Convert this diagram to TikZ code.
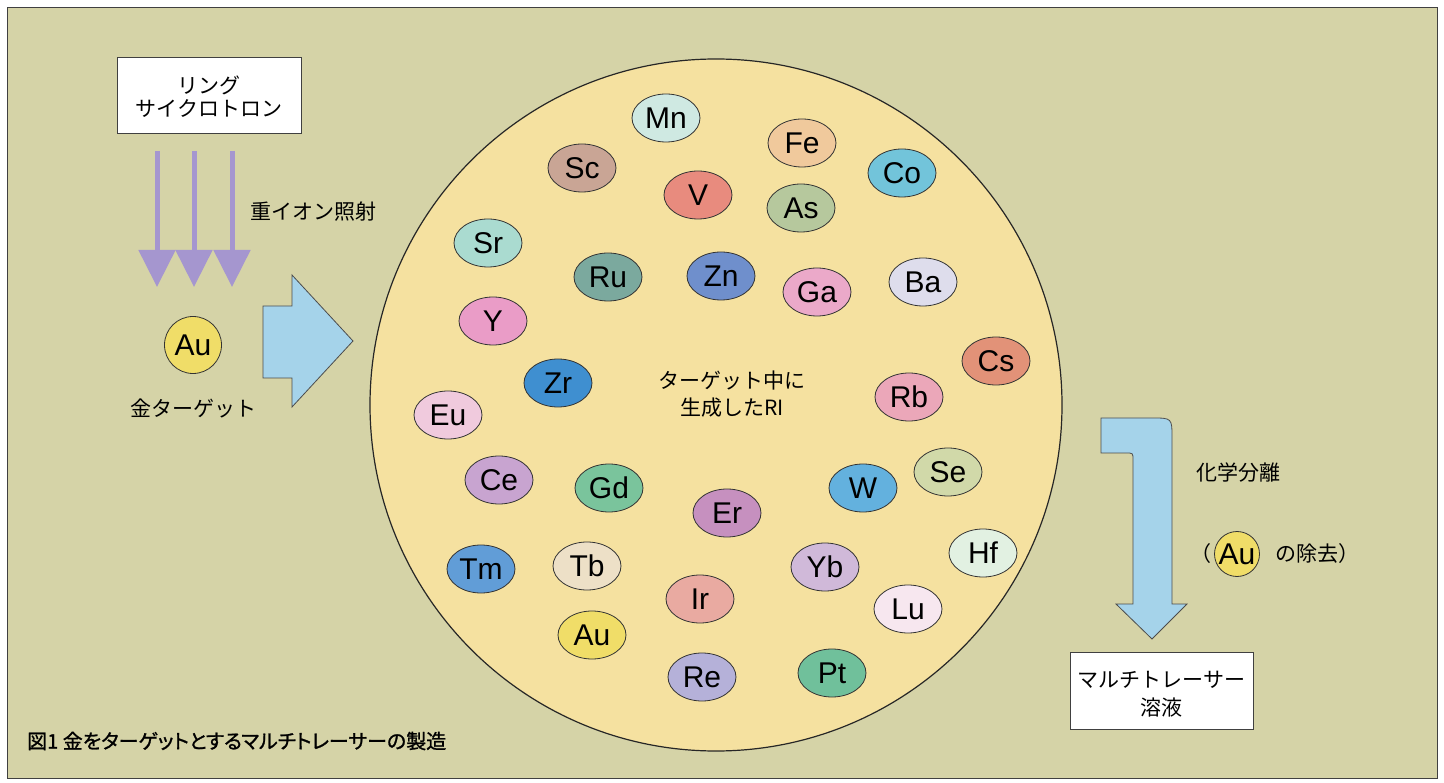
\documentclass[tikz,border=0pt]{standalone}
\usepackage{fontspec}
\setmainfont{Liberation Sans}
\newfontfamily\jp{Noto Sans CJK JP}
\newfontfamily\jpb[FakeBold=1.2,RawFeature=+palt]{Noto Sans CJK JP}
\usetikzlibrary{shapes.geometric,arrows.meta}
\definecolor{bg}{HTML}{D5D3A7}
\definecolor{pool}{HTML}{F5E1A0}
\definecolor{arrblue}{HTML}{A5D3EA}
\definecolor{beamc}{HTML}{A596CF}
\definecolor{auy}{HTML}{F0DD68}
\definecolor{cMn}{HTML}{CFE9E2}
\definecolor{cFe}{HTML}{F0C99C}
\definecolor{cSc}{HTML}{C9A595}
\definecolor{cCo}{HTML}{72C4DA}
\definecolor{cV}{HTML}{E88B7E}
\definecolor{cAs}{HTML}{B6C89D}
\definecolor{cSr}{HTML}{AADBD0}
\definecolor{cRu}{HTML}{7BA99E}
\definecolor{cZn}{HTML}{6F8FCC}
\definecolor{cGa}{HTML}{EBA9C9}
\definecolor{cBa}{HTML}{DEDDEC}
\definecolor{cY}{HTML}{EA9CC7}
\definecolor{cCs}{HTML}{E29278}
\definecolor{cZr}{HTML}{3F8FD0}
\definecolor{cEu}{HTML}{F0CADD}
\definecolor{cRb}{HTML}{EBA7B9}
\definecolor{cCe}{HTML}{C8A4D0}
\definecolor{cGd}{HTML}{7AC49C}
\definecolor{cEr}{HTML}{C690BF}
\definecolor{cW}{HTML}{63B1DE}
\definecolor{cSe}{HTML}{D1D9A9}
\definecolor{cTm}{HTML}{619DD7}
\definecolor{cTb}{HTML}{EDE0C7}
\definecolor{cIr}{HTML}{E9AAA1}
\definecolor{cYb}{HTML}{D0B9D9}
\definecolor{cHf}{HTML}{E2F1E2}
\definecolor{cLu}{HTML}{F7E7EF}
\definecolor{cRe}{HTML}{B5B1D9}
\definecolor{cPt}{HTML}{70C09B}
\begin{document}
\begin{tikzpicture}[x=1pt,y=-1pt,
  el/.style={ellipse, draw=black!80, line width=0.8pt, minimum width=68pt, minimum height=48pt,
    inner sep=0pt, text height=21pt, text depth=0pt, font=\fontsize{30}{31}\selectfont},
  jt/.style={font=\jp\fontsize{21}{23}\selectfont, align=center, inner sep=0pt},
  wbox/.style={draw=black!75, fill=white, line width=0.8pt},
  bluearr/.style={draw=black!70, fill=arrblue, line width=0.8pt, line join=miter},
  beam/.style={draw=beamc, line width=5pt, -{Triangle[width=36pt,length=37pt]}}]
\useasboundingbox (0,0) rectangle (1444,783);
\fill[white] (0,0) rectangle (1444,783);
\draw[fill=bg, draw=black!75, line width=1pt] (7,8) rectangle (1437,778);

% big circle of produced RI
\node[circle, draw=black!85, fill=pool, line width=1.2pt, minimum size=692pt, inner sep=0pt] (pool) at (716,405) {};

% left part
\node[wbox, minimum width=184pt, minimum height=76pt] (ring) at (209,95) {};
\node[jt, font=\jp\fontsize{21}{23}\selectfont] (ringt) at (209,97) {リング\\サイクロトロン};
\coordinate (b1s) at (157,151); \coordinate (b1e) at (157,287);
\coordinate (b2s) at (194,151); \coordinate (b2e) at (194,287);
\coordinate (b3s) at (232,151); \coordinate (b3e) at (232,287);
\draw[beam] (b1s) -- (b1e);
\draw[beam] (b2s) -- (b2e);
\draw[beam] (b3s) -- (b3e);
\node[jt] (ion) at (313,212) {重イオン照射};
\node[circle, draw=black!80, fill=auy, line width=0.8pt, minimum size=57pt, inner sep=0pt,
  text height=21pt, text depth=0pt, font=\fontsize{30}{31}\selectfont] (au0) at (193,345) {Au};
\node[jt] (target) at (193,408) {金ターゲット};
\draw[bluearr] (263,306) -- (292,306) -- (292,275) -- (353,341) -- (292,407) -- (292,378) -- (263,378) -- cycle;

% elements
\node[el, fill=cMn] (Mn) at (666,118) {Mn};
\node[el, fill=cFe] (Fe) at (802,143) {Fe};
\node[el, fill=cSc] (Sc) at (582,168) {Sc};
\node[el, fill=cCo] (Co) at (902,173) {Co};
\node[el, fill=cV] (V) at (698,195) {V};
\node[el, fill=cAs] (As) at (801,208) {As};
\node[el, fill=cSr] (Sr) at (488,243) {Sr};
\node[el, fill=cRu] (Ru) at (608,277) {Ru};
\node[el, fill=cZn] (Zn) at (721,276) {Zn};
\node[el, fill=cGa] (Ga) at (817,292) {Ga};
\node[el, fill=cBa] (Ba) at (923,282) {Ba};
\node[el, fill=cY] (Y) at (493,321) {Y};
\node[el, fill=cCs] (Cs) at (996,361) {Cs};
\node[el, fill=cZr] (Zr) at (558,383) {Zr};
\node[el, fill=cEu] (Eu) at (448,415) {Eu};
\node[el, fill=cRb] (Rb) at (909,397) {Rb};
\node[el, fill=cCe] (Ce) at (499,480) {Ce};
\node[el, fill=cGd] (Gd) at (609,488) {Gd};
\node[el, fill=cEr] (Er) at (727,513) {Er};
\node[el, fill=cW] (W) at (863,488) {W};
\node[el, fill=cSe] (Se) at (948,472) {Se};
\node[el, fill=cTm] (Tm) at (481,569) {Tm};
\node[el, fill=cTb] (Tb) at (587,566) {Tb};
\node[el, fill=cIr] (Ir) at (700,599) {Ir};
\node[el, fill=cYb] (Yb) at (825,567) {Yb};
\node[el, fill=cHf] (Hf) at (983,553) {Hf};
\node[el, fill=auy] (Au) at (592,635) {Au};
\node[el, fill=cLu] (Lu) at (908,609) {Lu};
\node[el, fill=cRe] (Re) at (702,677) {Re};
\node[el, fill=cPt] (Pt) at (832,673) {Pt};
\node[jt, font=\jp\fontsize{21}{27}\selectfont] (ri) at (732,394) {ターゲット中に\\生成したRI};

% right part
\draw[bluearr] (1101,418) -- (1152,418) .. controls (1172,418) .. (1172,438) -- (1172,604)
  -- (1187,604) -- (1152,639) -- (1116,604) -- (1133,604) -- (1133,460)
  .. controls (1133,453) .. (1126,453) -- (1101,453) -- cycle;
\node[jt] (chem) at (1238,473) {化学分離};
\node[circle, draw=black!80, fill=auy, line width=0.8pt, minimum size=45pt, inner sep=0pt,
  text height=21pt, text depth=0pt, font=\fontsize{30}{31}\selectfont] (au1) at (1237,554) {Au};
\node[jt, anchor=east] (lp) at (1212,554) {（};
\node[jt, anchor=west] (rm) at (1275,554) {の除去）};
\node[wbox, minimum width=183pt, minimum height=77pt] (mt) at (1161.5,690.5) {};
\node[jt, font=\jp\fontsize{21}{28}\selectfont] (mtt) at (1161.5,694) {マルチトレーサー\\溶液};

% caption
\node[anchor=west, inner sep=0pt, font=\jpb\fontsize{20}{22}\selectfont] (cap) at (27,741)
  {図1 金をターゲットとするマルチトレーサーの製造};
\end{tikzpicture}
\end{document}
